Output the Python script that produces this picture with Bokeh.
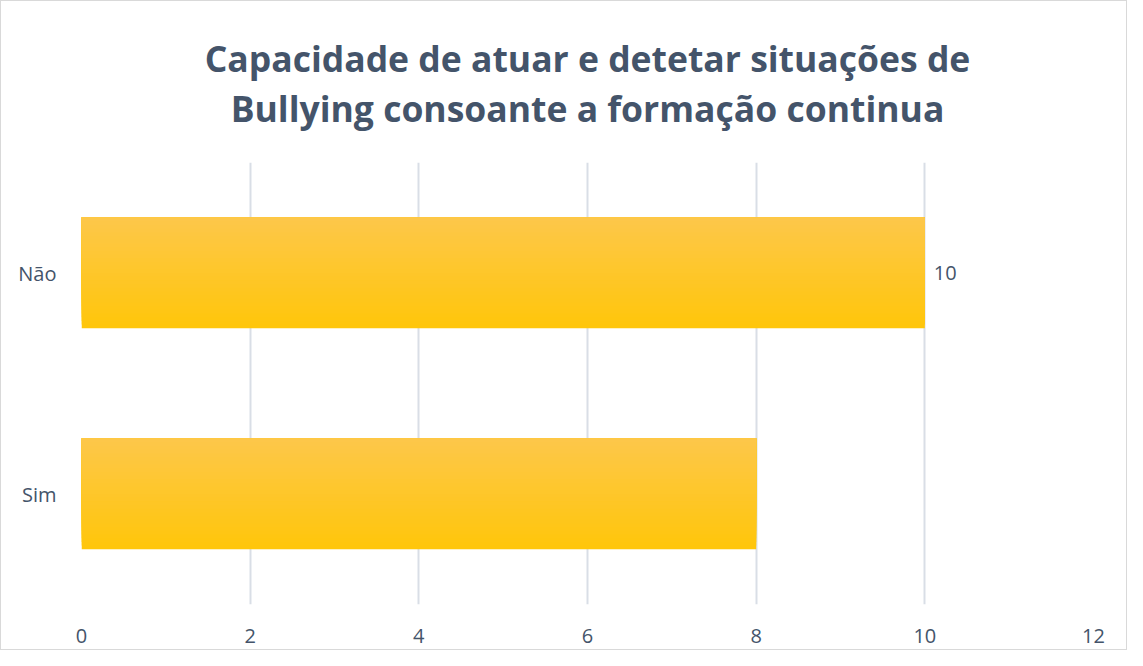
from bokeh.plotting import figure
from bokeh.models import ColumnDataSource, FactorRange, Title, FixedTicker, Range1d
from bokeh.transform import dodge
from bokeh.core.properties import value
from bokeh.embed import file_html
from bokeh.resources import INLINE

# ---- data ----
categories = ["Sim", "Não"]
counts = [8, 10]
data_labels = ["", "10"]
x_ticks = [0, 2, 4, 6, 8, 10, 12]
title_lines = ["Capacidade de atuar e detetar situações de",
               "Bullying consoante a formação continua"]

FONT = "Open Sans"
TXT = "#44546A"

source = ColumnDataSource(dict(cat=categories, val=counts, lab=data_labels))

p = figure(width=1127, height=650, y_range=FactorRange(factors=categories),
           x_range=Range1d(0, 12), output_backend="svg", toolbar_location=None,
           min_border_left=80, min_border_right=35, min_border_top=160,
           min_border_bottom=47, outline_line_color=None,
           background_fill_color="white", border_fill_color="white")

p.title = None
t = Title(text="\n".join(title_lines), align="center", text_align="center",
          text_font=FONT, text_font_size="35.5px", text_font_style="bold",
          text_color=TXT, text_line_height=1.04, standoff=61)
p.add_layout(t, "above")

# gradient bars: nested strips, each from its lower edge up to the bar top
N = 30
bar_h = 0.5
top_rgb = (253, 199, 74)
bot_rgb = (255, 198, 10)
for i in range(N):
    f = i / N  # 0 bottom -> 1 top
    lo = -bar_h / 2 + f * bar_h
    hi = bar_h / 2
    fc = (i + 0.5) / N
    c = tuple(int(round(bot_rgb[k] + (top_rgb[k] - bot_rgb[k]) * fc)) for k in range(3))
    col = "#%02x%02x%02x" % c
    p.hbar(y=dodge("cat", (lo + hi) / 2, range=p.y_range), right="val", left=0,
           height=hi - lo, source=source, fill_color=col, line_color=None)

p.text(x="val", y="cat", text="lab", source=source, x_offset=9,
       text_baseline="middle", text_align="left", text_font=value(FONT),
       text_font_size="20px", text_color=TXT)

p.xaxis.ticker = FixedTicker(ticks=x_ticks)
p.xaxis.axis_line_color = None
p.xaxis.major_tick_line_color = None
p.xaxis.minor_tick_line_color = None
p.xaxis.major_label_text_font = FONT
p.xaxis.major_label_text_font_size = "20px"
p.xaxis.major_label_text_color = TXT
p.xaxis.major_label_standoff = 18

p.yaxis.axis_line_color = None
p.yaxis.major_tick_line_color = None
p.yaxis.major_label_text_font = FONT
p.yaxis.major_label_text_font_size = "20px"
p.yaxis.major_label_text_color = TXT
p.yaxis.major_label_standoff = 19

p.xgrid.grid_line_color = "#D9DEE6"
p.xgrid.grid_line_width = 2
p.ygrid.grid_line_color = None

p.styles = {"border": "1px solid #D9D9D9"}

open("out.html", "w").write(file_html(p, INLINE))
